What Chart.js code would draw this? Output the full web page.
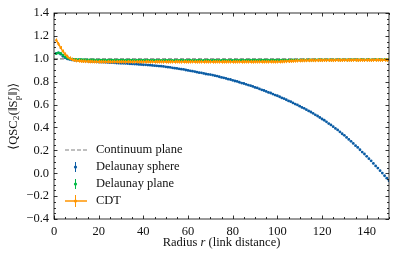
<!DOCTYPE html>
<html>
<head>
<meta charset="utf-8">
<script src="https://cdn.jsdelivr.net/npm/chart.js@4.4.1/dist/chart.umd.min.js"></script>
<style>
  body { margin: 0; background: #fff; }
  #c { display: block; }
</style>
</head>
<body>
<canvas id="c" width="398" height="258"></canvas>
<script>
// radius r = 1 .. 150 (link distance)
const radius = Array.from({ length: 150 }, (_, i) => i + 1)

// Delaunay sphere
const sphere = [
  1.048, 1.052, 1.040, 1.022, 1.008, 0.999, 0.994, 0.990, 0.988, 0.986,
  0.984, 0.983, 0.981, 0.980, 0.979, 0.978, 0.976, 0.975, 0.974, 0.972,
  0.971, 0.970, 0.969, 0.968, 0.967, 0.966, 0.965, 0.963, 0.962, 0.961,
  0.960, 0.959, 0.958, 0.956, 0.955, 0.954, 0.953, 0.951, 0.950, 0.948,
  0.947, 0.945, 0.944, 0.942, 0.940, 0.938, 0.936, 0.935, 0.933, 0.930,
  0.927, 0.925, 0.921, 0.918, 0.916, 0.912, 0.909, 0.907, 0.902, 0.898,
  0.895, 0.892, 0.888, 0.883, 0.879, 0.877, 0.872, 0.867, 0.864, 0.862,
  0.858, 0.852, 0.849, 0.843, 0.837, 0.834, 0.828, 0.822, 0.819, 0.812,
  0.806, 0.802, 0.795, 0.788, 0.784, 0.777, 0.770, 0.765, 0.758, 0.750,
  0.745, 0.737, 0.729, 0.723, 0.715, 0.706, 0.701, 0.692, 0.683, 0.677,
  0.668, 0.658, 0.651, 0.642, 0.632, 0.625, 0.614, 0.604, 0.597, 0.586,
  0.575, 0.567, 0.555, 0.544, 0.535, 0.523, 0.510, 0.500, 0.487, 0.474,
  0.463, 0.449, 0.434, 0.422, 0.407, 0.391, 0.378, 0.362, 0.345, 0.331,
  0.313, 0.295, 0.279, 0.260, 0.241, 0.225, 0.205, 0.185, 0.168, 0.148,
  0.127, 0.108, 0.086, 0.064, 0.045, 0.022, 0.001, -0.022, -0.043, -0.066
]

// Delaunay plane
const plane = [
  1.045, 1.052, 1.048, 1.032, 1.016, 1.006, 1.000, 0.997, 0.995, 0.994,
  0.993, 0.992, 0.992, 0.991, 0.991, 0.990, 0.990, 0.990, 0.989, 0.989,
  0.989, 0.988, 0.989, 0.988, 0.988, 0.989, 0.987, 0.988, 0.988, 0.987,
  0.988, 0.987, 0.987, 0.988, 0.987, 0.986, 0.987, 0.987, 0.986, 0.987,
  0.986, 0.987, 0.986, 0.986, 0.987, 0.986, 0.985, 0.986, 0.986, 0.987,
  0.986, 0.985, 0.986, 0.986, 0.985, 0.986, 0.987, 0.985, 0.986, 0.986,
  0.987, 0.986, 0.985, 0.986, 0.987, 0.986, 0.986, 0.985, 0.987, 0.986,
  0.986, 0.987, 0.986, 0.985, 0.986, 0.987, 0.986, 0.986, 0.987, 0.986,
  0.987, 0.986, 0.987, 0.987, 0.986, 0.987, 0.988, 0.987, 0.987, 0.988,
  0.987, 0.988, 0.988, 0.987, 0.988, 0.989, 0.988, 0.988, 0.989, 0.988,
  0.989, 0.988, 0.989, 0.989, 0.988, 0.989, 0.990, 0.989, 0.989, 0.990,
  0.989, 0.990, 0.989, 0.990, 0.990, 0.989, 0.990, 0.991, 0.990, 0.990,
  0.991, 0.990, 0.990, 0.991, 0.990, 0.991, 0.991, 0.990, 0.991, 0.991,
  0.990, 0.991, 0.991, 0.992, 0.991, 0.990, 0.991, 0.992, 0.991, 0.991,
  0.992, 0.991, 0.991, 0.992, 0.991, 0.992, 0.991, 0.992, 0.991, 0.992
]

// CDT
const cdt = [
  1.162, 1.130, 1.095, 1.065, 1.040, 1.020, 1.005, 0.995, 0.988, 0.984,
  0.982, 0.980, 0.979, 0.978, 0.977, 0.976, 0.976, 0.975, 0.975, 0.974,
  0.974, 0.975, 0.973, 0.974, 0.974, 0.973, 0.975, 0.974, 0.973, 0.974,
  0.974, 0.973, 0.974, 0.975, 0.973, 0.974, 0.974, 0.973, 0.974, 0.973,
  0.974, 0.975, 0.973, 0.974, 0.973, 0.974, 0.974, 0.975, 0.973, 0.974,
  0.973, 0.974, 0.974, 0.973, 0.975, 0.974, 0.973, 0.974, 0.974, 0.973,
  0.974, 0.975, 0.974, 0.973, 0.974, 0.974, 0.973, 0.975, 0.974, 0.974,
  0.973, 0.974, 0.975, 0.974, 0.973, 0.974, 0.974, 0.975, 0.974, 0.973,
  0.974, 0.974, 0.975, 0.973, 0.974, 0.975, 0.974, 0.974, 0.973, 0.975,
  0.974, 0.975, 0.974, 0.974, 0.975, 0.974, 0.975, 0.975, 0.974, 0.975,
  0.975, 0.976, 0.977, 0.978, 0.979, 0.980, 0.981, 0.982, 0.983, 0.984,
  0.985, 0.985, 0.986, 0.986, 0.987, 0.987, 0.986, 0.987, 0.988, 0.987,
  0.988, 0.987, 0.988, 0.988, 0.987, 0.988, 0.989, 0.988, 0.988, 0.989,
  0.988, 0.989, 0.988, 0.989, 0.989, 0.988, 0.989, 0.989, 0.988, 0.989,
  0.989, 0.988, 0.989, 0.989, 0.990, 0.989, 0.989, 0.990, 0.989, 0.989
]

// continuum plane reference
const continuumX = [0, 150]
const continuumY = [1.0, 1.0]

// error bar half-heights
const sphereErr = 0.007
const planeErr = 0.006
const cdtErr = 0.016

const xTicks = [0, 20, 40, 60, 80, 100, 120, 140]
const yTicks = [-0.4, -0.2, 0.0, 0.2, 0.4, 0.6, 0.8, 1.0, 1.2, 1.4]
const seriesLabels = ["Continuum plane", "Delaunay sphere", "Delaunay plane", "CDT"]

const BLUE = "#0C5DA5"
const GREEN = "#00B945"
const ORANGE = "#FF9500"
const GREY = "#808080"
const FONT = "'Liberation Serif', 'DejaVu Serif', serif"
const FS = 12.5

const toPoints = (xs, ys) => xs.map((x, i) => ({ x: x, y: ys[i] }))

const fmt = (v) => {
  const s = Math.abs(v).toFixed(1)
  return v < -1e-9 ? "\u2212" + s : s
}

// vertical error bars drawn through the y scale
const errorBars = {
  id: "errorBars",
  afterDatasetDraw(chart, args) {
    const ds = chart.data.datasets[args.index]
    if (!ds.err) return
    const ctx = chart.ctx
    const y = chart.scales.y
    const area = chart.chartArea
    ctx.save()
    ctx.beginPath()
    ctx.rect(area.left, area.top, area.right - area.left, area.bottom - area.top)
    ctx.clip()
    ctx.strokeStyle = ds.errColor
    ctx.lineWidth = 1
    args.meta.data.forEach((pt, i) => {
      const v = ds.data[i].y
      ctx.beginPath()
      ctx.moveTo(Math.round(pt.x) + 0.5, y.getPixelForValue(v - ds.err))
      ctx.lineTo(Math.round(pt.x) + 0.5, y.getPixelForValue(v + ds.err))
      ctx.stroke()
    })
    ctx.restore()
  },
}

// frame, inward ticks, axis titles and legend
const decorations = {
  id: "decorations",
  afterDraw(chart) {
    const ctx = chart.ctx
    const a = chart.chartArea
    const xs = chart.scales.x
    const ys = chart.scales.y
    ctx.save()
    ctx.strokeStyle = "#000"
    ctx.lineWidth = 0.8
    ctx.strokeRect(a.left, a.top, a.right - a.left, a.bottom - a.top)

    ctx.beginPath()
    for (let v = 0; v <= 150; v += 5) {
      const px = Math.round(xs.getPixelForValue(v)) + 0.5
      const len = v % 20 === 0 ? 3.5 : 2
      ctx.moveTo(px, a.bottom); ctx.lineTo(px, a.bottom - len)
      ctx.moveTo(px, a.top); ctx.lineTo(px, a.top + len)
    }
    for (let k = -8; k <= 28; k++) {
      const v = k * 0.05
      const py = Math.round(ys.getPixelForValue(v)) + 0.5
      const len = k % 4 === 0 ? 3.5 : 2
      ctx.moveTo(a.left, py); ctx.lineTo(a.left + len, py)
      ctx.moveTo(a.right, py); ctx.lineTo(a.right - len, py)
    }
    ctx.stroke()

    // x title
    ctx.fillStyle = "#111"
    ctx.textBaseline = "middle"
    const p1 = "Radius ", p2 = "r", p3 = " (link distance)"
    const reg = FS + "px " + FONT
    const ita = "italic " + FS + "px " + FONT
    ctx.font = reg
    const w1 = ctx.measureText(p1).width
    const w3 = ctx.measureText(p3).width
    ctx.font = ita
    const w2 = ctx.measureText(p2).width
    let tx = (a.left + a.right) / 2 - (w1 + w2 + w3) / 2
    const ty = 243
    ctx.textAlign = "left"
    ctx.font = reg
    ctx.fillText(p1, tx, ty); tx += w1
    ctx.font = ita
    ctx.fillText(p2, tx, ty); tx += w2
    ctx.font = reg
    ctx.fillText(p3, tx, ty)

    // y title: <QSC_2(||S^r_p||)>
    ctx.save()
    ctx.translate(14, (a.top + a.bottom) / 2)
    ctx.rotate(-Math.PI / 2)
    const small = "8.5px " + FONT
    const smallIt = "italic 8.5px " + FONT
    const parts = [
      { t: "\u27E8QSC", f: reg, dy: 0 },
      { t: "2", f: small, dy: 3 },
      { t: "(\u2016S", f: reg, dy: 0 },
      { t: "r", f: smallIt, dy: -4.5, stack: "p" },
      { t: "\u2016)\u27E9", f: reg, dy: 0 },
    ]
    let total = 0
    parts.forEach((p) => {
      ctx.font = p.f
      p.w = ctx.measureText(p.t).width
      if (p.stack) p.w = Math.max(p.w, ctx.measureText(p.stack).width)
      total += p.w + 0.5
    })
    let cx = -total / 2
    parts.forEach((p) => {
      ctx.font = p.f
      ctx.fillText(p.t, cx, p.dy)
      if (p.stack) {
        ctx.font = small
        ctx.fillText(p.stack, cx, 4)
      }
      cx += p.w + 0.5
    })
    ctx.restore()

    // legend
    const rows = [150, 167, 184, 201]
    const sx0 = 65, sx1 = 87, sxm = 75, textX = 96
    ctx.font = reg
    ctx.textAlign = "left"
    ctx.textBaseline = "middle"
    chart.data.datasets.forEach((ds) => {
      const r = seriesLabels.indexOf(ds.label)
      const yy = rows[r]
      ctx.save()
      if (ds.legendKind === "dash") {
        ctx.strokeStyle = ds.borderColor
        ctx.lineWidth = 1.2
        ctx.setLineDash([4, 2])
        ctx.beginPath(); ctx.moveTo(sx0, yy); ctx.lineTo(sx1, yy); ctx.stroke()
      } else {
        if (ds.legendKind === "line") {
          ctx.strokeStyle = ds.borderColor
          ctx.lineWidth = 1.5
          ctx.beginPath(); ctx.moveTo(sx0, yy); ctx.lineTo(sx1, yy); ctx.stroke()
        }
        ctx.strokeStyle = ds.borderColor
        ctx.lineWidth = 1
        const h = ds.legendKind === "line" ? 6 : 5
        ctx.beginPath(); ctx.moveTo(sxm + 0.5, yy - h); ctx.lineTo(sxm + 0.5, yy + h); ctx.stroke()
        ctx.fillStyle = ds.borderColor
        ctx.beginPath(); ctx.arc(sxm + 0.5, yy, 1.6, 0, Math.PI * 2); ctx.fill()
      }
      ctx.restore()
      ctx.fillStyle = "#111"
      ctx.fillText(ds.label, textX, yy)
    })
    ctx.restore()
  },
}

new Chart(document.getElementById("c"), {
  type: "scatter",
  data: {
    datasets: [
      {
        label: seriesLabels[3],
        data: toPoints(radius, cdt),
        showLine: true,
        borderColor: ORANGE,
        backgroundColor: ORANGE,
        borderWidth: 1.5,
        pointRadius: 1.2,
        pointBorderWidth: 0,
        err: cdtErr,
        errColor: ORANGE,
        legendKind: "line",
        order: 0,
      },
      {
        label: seriesLabels[2],
        data: toPoints(radius, plane),
        borderColor: GREEN,
        backgroundColor: GREEN,
        pointRadius: 1.4,
        pointBorderWidth: 0,
        err: planeErr,
        errColor: "rgba(0,185,69,0.5)",
        legendKind: "point",
        order: 1,
      },
      {
        label: seriesLabels[1],
        data: toPoints(radius, sphere),
        borderColor: BLUE,
        backgroundColor: BLUE,
        pointRadius: 1.4,
        pointBorderWidth: 0,
        err: sphereErr,
        errColor: "rgba(12,93,165,0.45)",
        legendKind: "point",
        order: 2,
      },
      {
        label: seriesLabels[0],
        data: toPoints(continuumX, continuumY),
        showLine: true,
        borderColor: GREY,
        borderWidth: 1.2,
        borderDash: [4, 2],
        pointRadius: 0,
        legendKind: "dash",
        order: 3,
      },
    ],
  },
  options: {
    responsive: false,
    animation: false,
    devicePixelRatio: 1,
    layout: { padding: { left: 0, right: 9, top: 13, bottom: 0 } },
    plugins: {
      legend: { display: false },
      tooltip: { enabled: false },
    },
    scales: {
      x: {
        type: "linear",
        min: 0,
        max: 150,
        grid: { display: false, drawTicks: false },
        border: { display: false },
        afterBuildTicks: (s) => { s.ticks = xTicks.map((v) => ({ value: v })) },
        ticks: {
          maxRotation: 0,
          autoSkip: false,
          padding: 5,
          color: "#111",
          font: { family: FONT, size: FS },
          callback: (v) => String(v),
        },
        afterFit: (s) => { s.height = 39 },
      },
      y: {
        min: -0.4,
        max: 1.4,
        grid: { display: false, drawTicks: false },
        border: { display: false },
        afterBuildTicks: (s) => { s.ticks = yTicks.map((v) => ({ value: v })) },
        ticks: {
          padding: 5,
          color: "#111",
          font: { family: FONT, size: FS },
          callback: (v) => fmt(v),
        },
        afterFit: (s) => { s.width = 54 },
      },
    },
  },
  plugins: [errorBars, decorations],
})
</script>
</body>
</html>
